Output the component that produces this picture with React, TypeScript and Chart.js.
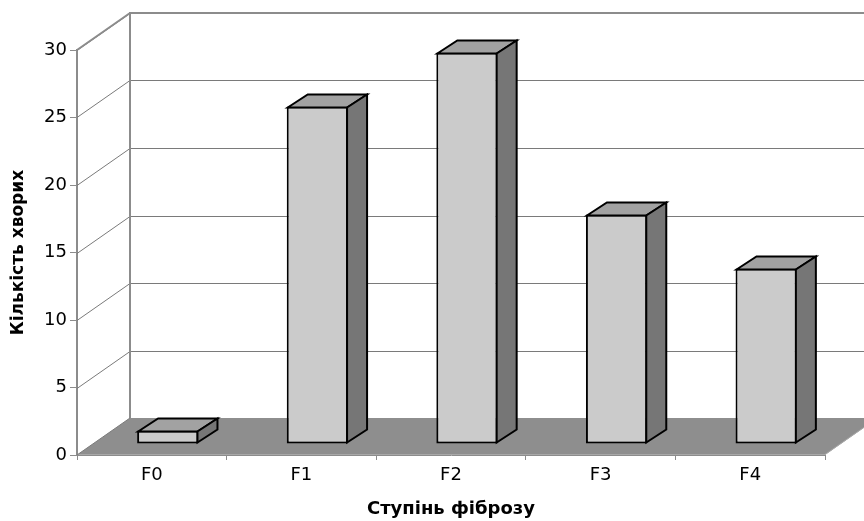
import React, { useEffect, useRef } from "react";
import { Chart, registerables } from "chart.js";

Chart.register(...registerables);

const categories = ["F0", "F1", "F2", "F3", "F4"];
const patients = [1, 25, 29, 17, 13];
const yTicks = [0, 5, 10, 15, 20, 25, 30];
const yTitle = "Кількість хворих";
const xTitle = "Ступінь фіброзу";

const DEPTH_X = 53;
const DEPTH_Y = -37;
const BAR_SHIFT_X = 16;
const BAR_SHIFT_Y = -11;
const BAR_DEPTH_X = 20;
const BAR_DEPTH_Y = -13;

const FONT = "'DejaVu Sans', 'Liberation Sans', Arial, sans-serif";

const threeD = {
  id: "threeD",
  beforeDatasetsDraw(chart: any) {
    const { ctx, chartArea, scales } = chart;
    const y = scales.y;
    const L = chartArea.left;
    const R = chartArea.right;
    const B = chartArea.bottom;
    const T = chartArea.top;
    const W = chart.width;
    ctx.save();
    ctx.strokeStyle = "#7a7a7a";
    ctx.lineWidth = 1;
    yTicks.forEach((v) => {
      if (v === 0) return;
      const py = Math.round(y.getPixelForValue(v)) + 0.5;
      ctx.beginPath();
      ctx.moveTo(L, py);
      ctx.lineTo(L + DEPTH_X, py + DEPTH_Y);
      ctx.lineTo(W + 20, py + DEPTH_Y);
      ctx.stroke();
    });
    ctx.fillStyle = "#8e8e8e";
    ctx.beginPath();
    ctx.moveTo(L, B);
    ctx.lineTo(R, B);
    ctx.lineTo(R + DEPTH_X, B + DEPTH_Y);
    ctx.lineTo(L + DEPTH_X, B + DEPTH_Y);
    ctx.closePath();
    ctx.fill();
    ctx.strokeStyle = "#a8a8a8";
    ctx.lineWidth = 1;
    ctx.beginPath();
    ctx.moveTo(L, B - 0.5);
    ctx.lineTo(R, B - 0.5);
    ctx.lineTo(R + DEPTH_X, B + DEPTH_Y - 0.5);
    ctx.stroke();
    ctx.strokeStyle = "#8c8c8c";
    ctx.lineWidth = 2;
    ctx.beginPath();
    ctx.moveTo(L + DEPTH_X, B + DEPTH_Y);
    ctx.lineTo(L + DEPTH_X, T + DEPTH_Y);
    ctx.lineTo(W + 20, T + DEPTH_Y);
    ctx.moveTo(L, T);
    ctx.lineTo(L + DEPTH_X, T + DEPTH_Y);
    ctx.stroke();
    ctx.strokeStyle = "#7a7a7a";
    ctx.lineWidth = 1;
    ctx.beginPath();
    ctx.moveTo(L, B);
    ctx.lineTo(L + DEPTH_X, B + DEPTH_Y);
    ctx.stroke();
    ctx.restore();
    ctx.save();
    ctx.translate(BAR_SHIFT_X, BAR_SHIFT_Y);
  },
  afterDatasetsDraw(chart: any) {
    const { ctx } = chart;
    const meta = chart.getDatasetMeta(0);
    meta.data.forEach((bar: any) => {
      const { x, y, base, width } = bar.getProps(["x", "y", "base", "width"], true);
      const l = x - width / 2 + 1;
      const r = x + width / 2 - 1;
      const t = y + 1;
      const b = base - 1;
      ctx.lineWidth = 2;
      ctx.strokeStyle = "#000";
      ctx.lineJoin = "miter";
      ctx.fillStyle = "#a2a2a2";
      ctx.beginPath();
      ctx.moveTo(l, t);
      ctx.lineTo(l + BAR_DEPTH_X, t + BAR_DEPTH_Y);
      ctx.lineTo(r + BAR_DEPTH_X, t + BAR_DEPTH_Y);
      ctx.lineTo(r, t);
      ctx.closePath();
      ctx.fill();
      ctx.stroke();
      ctx.fillStyle = "#767676";
      ctx.beginPath();
      ctx.moveTo(r, t);
      ctx.lineTo(r + BAR_DEPTH_X, t + BAR_DEPTH_Y);
      ctx.lineTo(r + BAR_DEPTH_X, b + BAR_DEPTH_Y);
      ctx.lineTo(r, b);
      ctx.closePath();
      ctx.fill();
      ctx.stroke();
    });
    ctx.restore();
  },
};

export default function App() {
  const ref = useRef<HTMLCanvasElement | null>(null);
  useEffect(() => {
    if (!ref.current) return;
    const chart = new Chart(ref.current, {
      type: "bar",
      data: {
        labels: categories,
        datasets: [
          {
            data: patients,
            backgroundColor: "#cbcbcb",
            borderColor: "#000",
            borderWidth: 2,
            borderSkipped: false,
            categoryPercentage: 1,
            barPercentage: 0.41,
            clip: false as any,
          },
        ],
      },
      options: {
        animation: false,
        responsive: false,
        maintainAspectRatio: false,
        devicePixelRatio: 1,
        layout: { padding: { top: 50, right: 39, left: 0, bottom: 0 } },
        plugins: { legend: { display: false }, tooltip: { enabled: false } },
        scales: {
          x: {
            grid: {
              offset: true,
              drawOnChartArea: false,
              drawTicks: true,
              tickLength: 5,
              color: "#8c8c8c",
            },
            border: { display: true, color: "#8c8c8c", width: 1 },
            ticks: {
              color: "#000",
              padding: 5,
              font: { family: FONT, size: 18 },
            },
            title: {
              display: true,
              text: xTitle,
              color: "#000",
              font: { family: FONT, size: 18, weight: "bold" },
              padding: { top: 0, bottom: 1 },
            },
            afterFit(scale: any) {
              scale.height = 66;
            },
          },
          y: {
            min: 0,
            max: 30,
            afterBuildTicks(scale: any) {
              scale.ticks = yTicks.map((v) => ({ value: v }));
            },
            grid: {
              drawOnChartArea: false,
              drawTicks: true,
              tickLength: 7,
              color: "#8c8c8c",
            },
            border: { display: true, color: "#8c8c8c", width: 2 },
            ticks: {
              color: "#000",
              padding: 3,
              font: { family: FONT, size: 18 },
            },
            title: {
              display: true,
              text: yTitle,
              color: "#000",
              font: { family: FONT, size: 17, weight: "bold" },
              padding: { top: 8, bottom: 0 },
            },
            afterFit(scale: any) {
              scale.width = 77;
            },
          },
        },
      },
      plugins: [threeD],
    });
    return () => chart.destroy();
  }, []);
  return (
    <div style={{ position: "fixed", left: 0, top: 0, width: 864, height: 521, background: "#fff" }}>
      <canvas ref={ref} width={864} height={521} />
    </div>
  );
}
